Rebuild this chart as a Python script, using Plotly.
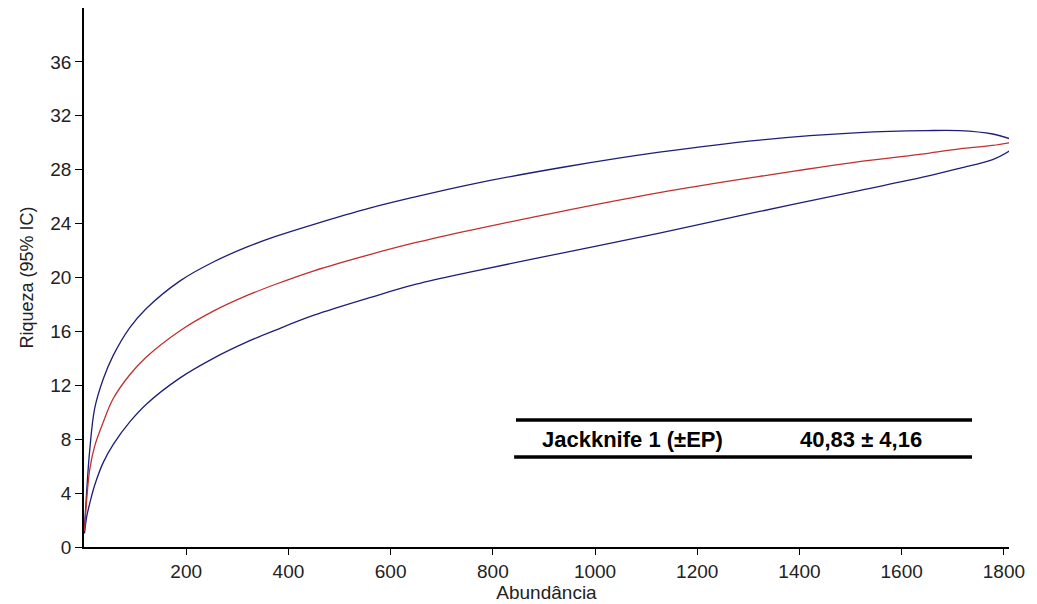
import plotly.graph_objects as go

# Data
abundancia = [1, 5, 11, 21, 38, 57, 90, 122, 188, 253, 318, 375, 450, 559, 650, 755, 940,
              1126, 1322, 1517, 1648, 1713, 1778, 1811]
riqueza_sup = [1.5, 4.0, 7.1, 10.3, 12.5, 14.2, 16.3, 17.7, 19.75, 21.15, 22.25, 23.05, 23.95,
               25.15, 26.0, 26.9, 28.2, 29.3, 30.2, 30.75, 30.9, 30.9, 30.65, 30.3]
riqueza_media = [1.2, 3.4, 5.7, 7.5, 9.3, 11.0, 12.8, 14.1, 16.05, 17.5, 18.65, 19.5, 20.5,
                 21.7, 22.6, 23.5, 24.95, 26.3, 27.5, 28.6, 29.2, 29.55, 29.8, 30.0]
riqueza_inf = [1.0, 2.2, 3.2, 4.6, 6.3, 7.6, 9.3, 10.6, 12.55, 14.0, 15.2, 16.1, 17.2,
               18.5, 19.5, 20.4, 21.85, 23.3, 24.9, 26.45, 27.5, 28.1, 28.75, 29.4]

y_ticks = [0, 4, 8, 12, 16, 20, 24, 28, 32, 36]
x_ticks = [200, 400, 600, 800, 1000, 1200, 1400, 1600, 1800]

tabela_rotulo = "Jackknife 1 (±EP)"
tabela_valor = "40,83 ± 4,16"

BLUE = "#1e1e78"
RED = "#c0302e"
FONT = "Arial, Liberation Sans, sans-serif"

fig = go.Figure()
for serie, cor in ((riqueza_sup, BLUE), (riqueza_inf, BLUE), (riqueza_media, RED)):
    fig.add_trace(go.Scatter(x=abundancia, y=serie, mode="lines",
                             line=dict(color=cor, width=1.3, shape="spline", smoothing=1.0),
                             showlegend=False))

# table lines
fig.add_shape(type="line", xref="paper", yref="paper", x0=0.467, x1=0.96,
              y0=0.2357, y1=0.2357, line=dict(color="black", width=3.5))
fig.add_shape(type="line", xref="paper", yref="paper", x0=0.465, x1=0.96,
              y0=0.167, y1=0.167, line=dict(color="black", width=3.5))
fig.add_annotation(xref="paper", yref="paper", x=0.593, y=0.2, text=tabela_rotulo,
                   showarrow=False, font=dict(family=FONT, size=22, color="black"),
                   xanchor="center", yanchor="middle")
fig.add_annotation(xref="paper", yref="paper", x=0.84, y=0.2, text=tabela_valor,
                   showarrow=False, font=dict(family=FONT, size=22, color="black"),
                   xanchor="center", yanchor="middle")
fig.update_annotations(font_weight="bold")

fig.update_layout(
    width=1037, height=604,
    margin=dict(l=84, r=28, t=8, b=57),
    paper_bgcolor="white", plot_bgcolor="white",
    font=dict(family=FONT, size=19, color="#222222"),
    xaxis=dict(range=[0, 1810], tickvals=x_ticks, ticks="outside", ticklen=6,
               tickcolor="black", showline=True, linecolor="black", linewidth=1.5,
               showgrid=False, zeroline=False, automargin=False,
               title=dict(text="Abundância", font=dict(size=19), standoff=0)),
    yaxis=dict(range=[0, 40], tickvals=y_ticks, ticks="outside", ticklen=7,
               tickcolor="black", showline=True, linecolor="black", linewidth=1.5,
               showgrid=False, zeroline=False, automargin=False,
               title=dict(text="Riqueza (95% IC)", font=dict(size=18), standoff=12)),
)

fig.write_html("out.html")
